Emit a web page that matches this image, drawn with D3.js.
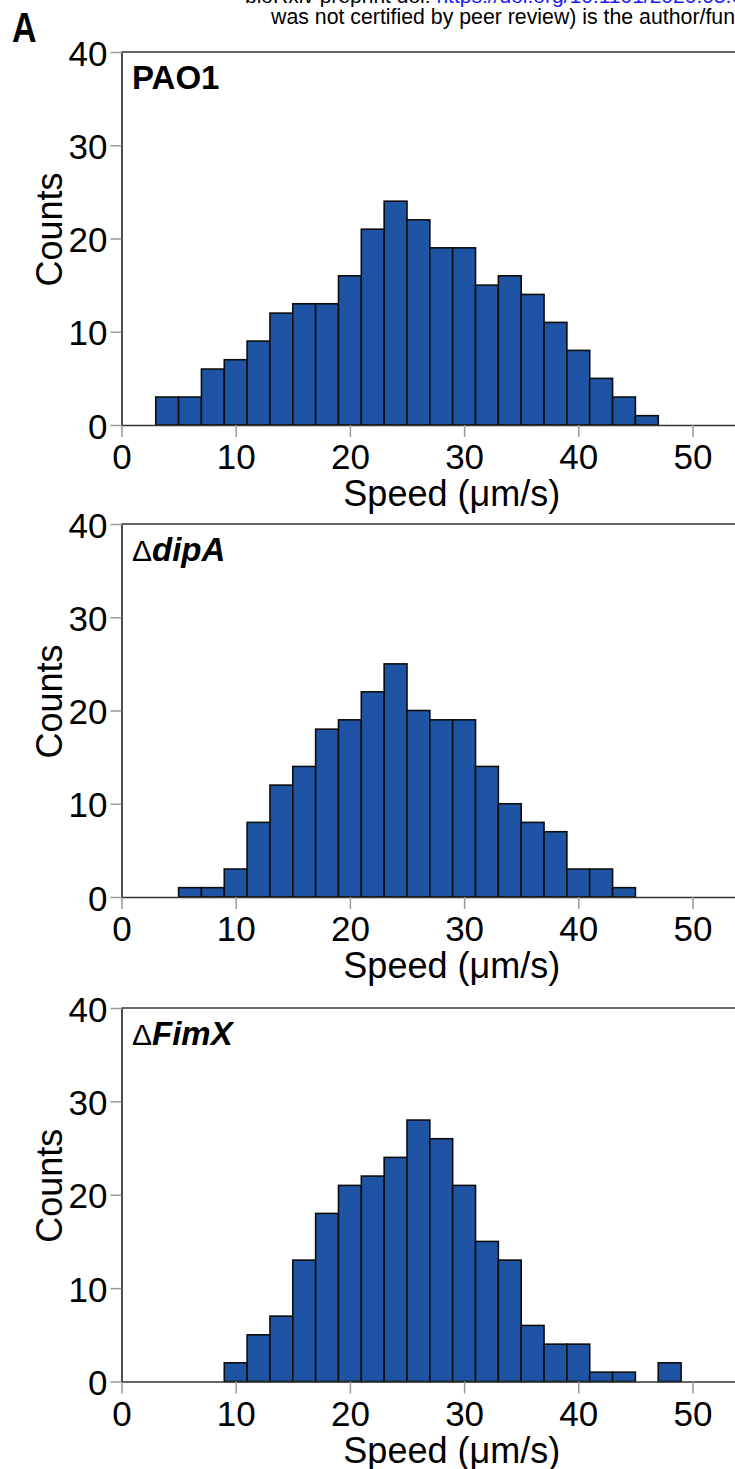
<!DOCTYPE html>
<html>
<head>
<meta charset="utf-8">
<script src="https://cdn.jsdelivr.net/npm/d3@7"></script>
<style>
  html, body { margin: 0; padding: 0; background: #fff; }
  svg { display: block; }
</style>
</head>
<body>
<script>
// ---- data ----
const binWidth = 2;
const pao1Start = 3;
const pao1Counts = [3,3,6,7,9,12,13,13,16,21,24,22,19,19,15,16,14,11,8,5,3,1];
const dipAStart = 5;
const dipACounts = [1,1,3,8,12,14,18,19,22,25,20,19,19,14,10,8,7,3,3,1];
const fimXStart = 9;
const fimXCounts = [2,5,7,13,18,21,22,24,28,26,21,15,13,6,4,4,1,1,0,2];
const xTicks = [0,10,20,30,40,50];
const yTicks = [0,10,20,30,40];
const xTitle = "Speed (\u03bcm/s)";
const yTitle = "Counts";

const panels = [
  {prefix: "", name: "PAO1", start: pao1Start, counts: pao1Counts, top: 52, bottom: 425},
  {prefix: "\u0394", name: "dipA", start: dipAStart, counts: dipACounts, top: 524, bottom: 897},
  {prefix: "\u0394", name: "FimX", start: fimXStart, counts: fimXCounts, top: 1008, bottom: 1381.5}
];

const FONT = "'Liberation Sans', Arial, sans-serif";
const W = 735, H = 1469;
const svg = d3.select("body").append("svg").attr("width", W).attr("height", H)
  .attr("font-family", FONT);

// header (cropped preprint notice)
const h1 = svg.append("text").attr("x", 245).attr("y", 3).attr("font-size", 21).attr("fill", "#000");
h1.append("tspan").text("bioRxiv preprint doi: ");
h1.append("tspan").attr("fill", "#1a1aff").text("https://doi.org/10.1101/2020.05.05.079301");
h1.append("tspan").text("; this version posted May 6, 2020.");
svg.append("text").attr("x", 271).attr("y", 24).attr("font-size", 21.3).attr("fill", "#000")
  .text("was not certified by peer review) is the author/funder");

svg.append("text").attr("transform", "translate(12,42) scale(0.85,1.05)")
  .attr("font-weight", "bold").attr("font-size", 40).text("A");

const x = d3.scaleLinear().domain([0, 55]).range([121.5, 121.5 + 55 * 11.42]);

panels.forEach(p => {
  const y = d3.scaleLinear().domain([0, 40]).range([p.bottom, p.top]);
  const g = svg.append("g");
  const bins = p.counts.map((c, i) => ({x0: p.start + i * binWidth, x1: p.start + (i + 1) * binWidth, c}))
    .filter(d => d.c > 0);

  // bars
  g.selectAll("rect.bar").data(bins).enter().append("rect")
    .attr("class", "bar")
    .attr("x", d => x(d.x0))
    .attr("width", d => x(d.x1) - x(d.x0))
    .attr("y", d => y(d.c))
    .attr("height", d => y(0) - y(d.c))
    .attr("fill", "#1f54a5")
    .attr("stroke", "#0d0d0d")
    .attr("stroke-width", 1.6);

  // frame: top line and right line (off canvas)
  g.append("line").attr("x1", x(0)).attr("x2", x(55)).attr("y1", y(40)).attr("y2", y(40))
    .attr("stroke", "#333").attr("stroke-width", 1.6);
  g.append("line").attr("x1", x(55)).attr("x2", x(55)).attr("y1", y(40)).attr("y2", y(0))
    .attr("stroke", "#333").attr("stroke-width", 1.6);

  // x axis
  const xAxis = d3.axisBottom(x).tickValues(xTicks).tickSize(12).tickPadding(8).tickSizeOuter(0);
  const gx = g.append("g").attr("transform", `translate(0,${y(0)})`).call(xAxis);
  gx.attr("font-family", FONT);
  gx.select(".domain").attr("stroke", "#333").attr("stroke-width", 1.6);
  gx.selectAll(".tick line").attr("stroke", "#999").attr("stroke-width", 1.5);
  gx.selectAll(".tick text").attr("font-size", 35).attr("fill", "#000")
    .attr("dy", null).attr("y", 44);

  // y axis
  const yAxis = d3.axisLeft(y).tickValues(yTicks).tickSize(11).tickPadding(3).tickSizeOuter(0);
  const gy = g.append("g").attr("transform", `translate(${x(0)},0)`).call(yAxis);
  gy.attr("font-family", FONT);
  gy.select(".domain").attr("stroke", "#222").attr("stroke-width", 1.6);
  gy.selectAll(".tick line").attr("stroke", "#999").attr("stroke-width", 1.5);
  gy.selectAll(".tick text").attr("font-size", 35).attr("fill", "#000")
    .attr("dy", null).attr("y", 13).attr("x", -14);

  // axis titles
  g.append("text").attr("x", (x(0) + 692) / 2 + 45).attr("y", y(0) + 81)
    .attr("text-anchor", "middle").attr("font-size", 36).text(xTitle);
  g.append("text")
    .attr("transform", `translate(62,${(p.top + p.bottom) / 2 - 9}) rotate(-90)`)
    .attr("text-anchor", "middle").attr("font-size", 36).text(yTitle);

  // panel label
  const lab = g.append("text").attr("x", 132).attr("y", p.top + 37).attr("font-size", 33);
  if (p.prefix) lab.append("tspan").attr("font-size", 30).text(p.prefix);
  lab.append("tspan").attr("font-weight", "bold")
    .attr("font-style", p.prefix ? "italic" : "normal").text(p.name);
});
</script>
</body>
</html>
